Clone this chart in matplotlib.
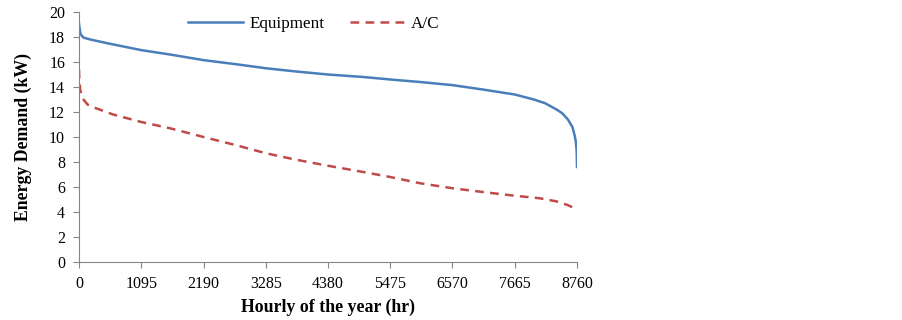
import numpy as np
import matplotlib.pyplot as plt

plt.rcParams['font.family'] = ['Liberation Serif', 'DejaVu Serif']

# hour-of-year points
equip_hours = [0, 10, 30, 80, 200, 500, 1095, 1600, 2190, 2800, 3285, 3800,
               4380, 5000, 5475, 6000, 6570, 7100, 7665, 8000, 8200, 8400,
               8500, 8600, 8680, 8720, 8740, 8755, 8760]
equip_kw = [19.1, 18.7, 18.2, 17.95, 17.8, 17.5, 16.95, 16.6, 16.15, 15.8,
            15.5, 15.25, 15.0, 14.8, 14.6, 14.4, 14.15, 13.8, 13.4, 13.0,
            12.7, 12.2, 11.9, 11.4, 10.8, 10.1, 9.6, 8.8, 7.6]

ac_hours = [0, 5, 20, 60, 150, 300, 600, 1095, 1600, 2190, 2800, 3285, 3800,
            4380, 5000, 5475, 6000, 6570, 7100, 7665, 8100, 8400, 8600, 8760]
ac_kw = [15.4, 14.6, 13.8, 13.1, 12.6, 12.3, 11.8, 11.2, 10.7, 10.0, 9.3, 8.7,
         8.2, 7.7, 7.2, 6.8, 6.3, 5.9, 5.6, 5.3, 5.1, 4.85, 4.55, 4.2]

xticks = [0, 1095, 2190, 3285, 4380, 5475, 6570, 7665, 8760]
yticks = list(range(0, 21, 2))

fig = plt.figure(figsize=(9.02, 3.2), dpi=100)
ax = fig.add_axes([79 / 902, 58 / 320, 498 / 902, 250 / 320])

ax.plot(equip_hours, equip_kw, color='#4a7ebb', lw=1.8, label='Equipment')
ax.plot(ac_hours, ac_kw, color='#be4b48', lw=1.8, ls=(0, (3.5, 2.5)), label='A/C')

ax.set_xlim(0, 8760)
ax.set_ylim(0, 20)
ax.set_xticks(xticks)
ax.set_yticks(yticks)
ax.tick_params(axis='both', labelsize=11.5, color='#868686', length=4, width=0.8)
ax.tick_params(axis='x', pad=6)
ax.tick_params(axis='y', pad=6)
for s in ['top', 'right']:
    ax.spines[s].set_visible(False)
for s in ['left', 'bottom']:
    ax.spines[s].set_color('#868686')
    ax.spines[s].set_linewidth(0.8)

ax.set_xlabel('Hourly of the year (hr)', fontsize=12.75, fontweight='bold', labelpad=5)
ax.set_ylabel('Energy Demand (kW)', fontsize=12.75, fontweight='bold', labelpad=12)

fig.legend(loc='center', bbox_to_anchor=(314 / 902, 1 - 24 / 320), ncol=2,
           frameon=False, fontsize=12.3, handlelength=3.2, columnspacing=1.45,
           handletextpad=0.4)

fig.savefig('out.png', dpi=100)
